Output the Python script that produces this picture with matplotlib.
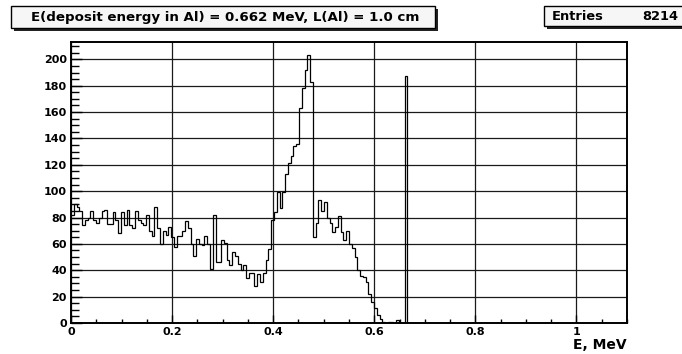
import matplotlib
matplotlib.use("Agg")
import matplotlib.pyplot as plt
import numpy as np
from matplotlib.ticker import MultipleLocator, FuncFormatter
from matplotlib.patches import Rectangle

plt.rcParams["font.family"] = ["DejaVu Sans"]
plt.rcParams["font.weight"] = "bold"

# Histogram binning
x_min, x_max, n_bins = 0.0, 1.1, 200

# Bin contents from the first bin up to the 0.662 MeV line; higher bins are empty
filled_counts = [
    82, 90, 88, 85, 74, 78, 80, 85, 78, 76, 80, 85, 86, 75, 75, 84, 78, 68, 84, 74,
    86, 74, 72, 85, 78, 76, 74, 82, 70, 66, 88, 72, 60, 70, 67, 73, 65, 58, 66, 66,
    70, 77, 72, 60, 51, 64, 60, 59, 66, 60, 41, 82, 46, 46, 63, 61, 48, 44, 54, 51,
    45, 40, 44, 34, 38, 38, 28, 37, 31, 38, 48, 56, 78, 84, 99, 87, 99, 113, 121, 127,
    134, 136, 163, 178, 192, 203, 183, 65, 76, 93, 85, 92, 80, 76, 69, 73, 81, 69, 63, 70,
    60, 57, 50, 40, 36, 35, 31, 22, 16, 11, 6, 3, 1, 0, 1, 1, 0, 2, 0, 0,
    187,
]

title_text = "E(deposit energy in Al) = 0.662 MeV, L(Al) = 1.0 cm"
entries_label = "Entries"
entries_value = "8214"
x_label = "E, MeV"

counts = np.zeros(n_bins)
counts[:len(filled_counts)] = filled_counts
edges = np.linspace(x_min, x_max, n_bins + 1)

W, H = 682, 354
fig = plt.figure(figsize=(W / 100, H / 100), dpi=100)
fig.patch.set_facecolor("white")

# plot frame in pixel units: left 71, right 627, top 42, bottom 323
ax = fig.add_axes([71 / W, (H - 323) / H, (627 - 71) / W, (323 - 42) / H])

ax.stairs(counts, edges, baseline=None, color="black", linewidth=0.9, zorder=3)

ax.set_xlim(x_min, x_max)
ax.set_ylim(0, 1.05 * counts.max())

ax.xaxis.set_major_locator(MultipleLocator(0.2))
ax.xaxis.set_minor_locator(MultipleLocator(0.05))
ax.yaxis.set_major_locator(MultipleLocator(20))
ax.yaxis.set_minor_locator(MultipleLocator(5))
ax.xaxis.set_major_formatter(FuncFormatter(lambda v, p: "%g" % round(v, 3)))
ax.yaxis.set_major_formatter(FuncFormatter(lambda v, p: "%g" % v))

ax.grid(True, which="major", color="#1a1a1a", linewidth=0.9, zorder=1)

ax.tick_params(axis="x", which="major", direction="in", length=6, width=1,
               labelsize=8, pad=3)
ax.tick_params(axis="x", which="minor", direction="in", length=2.6, width=1)
ax.tick_params(axis="y", which="major", direction="in", length=8, width=1,
               labelsize=8, pad=3)
ax.tick_params(axis="y", which="minor", direction="in", length=6, width=1)
for lbl in ax.get_xticklabels() + ax.get_yticklabels():
    lbl.set_fontweight("bold")

for side in ["left", "bottom", "right", "top"]:
    ax.spines[side].set_linewidth(1.4)
    ax.spines[side].set_color("black")

# axis title at the right end of the x axis
fig.text(627 / W, (H - 349) / H, x_label, ha="right", va="baseline",
         fontsize=10, fontweight="bold")


def pave(x0, y0, x1, y1, shadow=2.5):
    """Draw a framed label box with a drop shadow, coordinates in pixels."""
    fig.patches.append(Rectangle((((x0 + shadow) / W), (H - y1 - shadow) / H),
                                 (x1 - x0) / W, (y1 - y0) / H,
                                 transform=fig.transFigure, facecolor="#222222",
                                 edgecolor="none", zorder=1))
    fig.patches.append(Rectangle((x0 / W, (H - y1) / H), (x1 - x0) / W, (y1 - y0) / H,
                                 transform=fig.transFigure, facecolor="#f6f6f6",
                                 edgecolor="black", linewidth=1.0, zorder=2))


pave(11, 6, 435, 28)
fig.text(225 / W, (H - 17) / H, title_text, ha="center", va="center",
         fontsize=9.6, fontweight="bold", zorder=3)

pave(544, 6, 690, 26)
fig.text(552 / W, (H - 16) / H, entries_label, ha="left", va="center",
         fontsize=9.4, fontweight="bold", zorder=3)
fig.text(678 / W, (H - 16) / H, entries_value, ha="right", va="center",
         fontsize=9.4, fontweight="bold", zorder=3)

fig.savefig("out.png", dpi=100, facecolor="white")
